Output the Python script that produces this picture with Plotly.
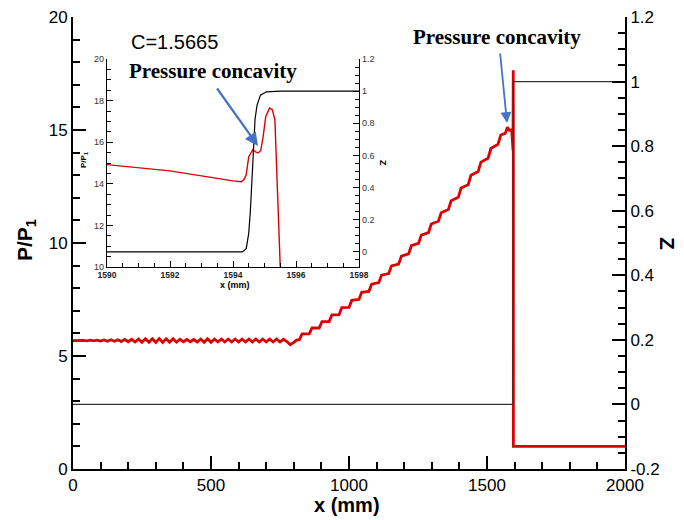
import plotly.graph_objects as go

# ---------------- data ----------------
# pressure ratio P/P1 along x (mm)
x_p = [0, 12.5, 25, 37.5, 50, 62.5, 75, 87.5, 100, 112.5, 125, 137.5, 150, 162.5, 175, 187.5,
       200, 212.5, 225, 237.5, 250, 262.5, 275, 287.5, 300, 312.5, 325, 337.5, 350, 362.5, 375, 387.5,
       400, 412.5, 425, 437.5, 450, 462.5, 475, 487.5, 500, 512.5, 525, 537.5, 550, 562.5, 575, 587.5,
       600, 612.5, 625, 637.5, 650, 662.5, 675, 687.5, 700, 712.5, 725, 737.5, 750, 762.5, 775,
       787, 800, 810,
       820, 830, 856, 866, 892, 902, 928, 938, 964, 974, 1000, 1010, 1036, 1046, 1072, 1082,
       1108, 1118, 1144, 1154, 1180, 1190, 1216, 1226, 1252, 1262, 1288, 1298, 1324, 1334,
       1360, 1370, 1396, 1406, 1432, 1442, 1468, 1478, 1504, 1514, 1540, 1550, 1566, 1574,
       1582, 1586,
       1590, 1591, 1592, 1593, 1593.5, 1594.0, 1594.26, 1594.35, 1594.42, 1594.5, 1594.63,
       1594.7, 1594.8, 1594.88, 1594.95, 1595.04, 1595.16, 1595.25, 1595.33, 1595.37,
       1595.44, 1595.5, 1595.6, 2000]
p_ratio = [5.68, 5.69, 5.67, 5.69, 5.67, 5.70, 5.67, 5.70, 5.66, 5.71, 5.65, 5.72, 5.65, 5.72, 5.64, 5.73,
           5.63, 5.74, 5.62, 5.75, 5.61, 5.76, 5.61, 5.76, 5.60, 5.77, 5.60, 5.76, 5.61, 5.76, 5.61, 5.74,
           5.63, 5.73, 5.63, 5.73, 5.62, 5.75, 5.61, 5.76, 5.61, 5.75, 5.62, 5.75, 5.62, 5.75, 5.62, 5.75,
           5.62, 5.75, 5.62, 5.75, 5.62, 5.75, 5.62, 5.75, 5.62, 5.75, 5.62, 5.75, 5.62, 5.74, 5.64,
           5.50, 5.60, 5.70,
           5.72, 5.98, 5.98, 6.24, 6.24, 6.52, 6.52, 6.82, 6.83, 7.14, 7.15, 7.46, 7.50, 7.82, 7.86, 8.18,
           8.25, 8.58, 8.65, 8.99, 9.07, 9.42, 9.52, 9.88, 9.98, 10.35, 10.46, 10.84, 10.96, 11.34,
           11.48, 11.87, 12.02, 12.43, 12.58, 13.00, 13.16, 13.58, 13.75, 14.18, 14.37, 14.78, 14.85, 15.12,
           14.95, 15.05,
           14.92, 14.78, 14.62, 14.38, 14.25, 14.14, 14.10, 14.20, 14.44, 15.30, 15.64,
           15.55, 15.48, 15.60, 16.20, 17.24, 17.64, 17.56, 17.08, 15.50,
           12.30, 10.00, 1.00, 1.00]

# reaction progress Z along x (mm)
x_z = [0, 1594.3, 1594.42, 1594.5, 1594.55, 1594.61, 1594.7, 1594.76, 1594.87, 1595.06, 1595.5, 2000]
z_vals = [0, 0, 0.02, 0.117, 0.25, 0.45, 0.825, 0.91, 0.975, 0.996, 1.0, 1.0]

main_x_ticks = [0, 500, 1000, 1500, 2000]
main_p_ticks = [0, 5, 10, 15, 20]
main_z_ticks = [-0.2, 0, 0.2, 0.4, 0.6, 0.8, 1.0, 1.2]
main_z_text = ["-0.2", "0", "0.2", "0.4", "0.6", "0.8", "1", "1.2"]
inset_x_ticks = [1590, 1592, 1594, 1596, 1598]
inset_p_ticks = [10, 12, 14, 16, 18, 20]
inset_z_ticks = [0, 0.2, 0.4, 0.6, 0.8, 1.0, 1.2]
inset_z_text = ["0", "0.2", "0.4", "0.6", "0.8", "1", "1.2"]

# ---------------- layout helpers ----------------
W, H = 684, 520
OFF = 8                         # page body margin offset of the figure
L, R, T, B = 73, 625, 17, 469   # plot area in screen pixels
def xp(px):
    return (px - L) / (R - L)
def yp(py):
    return (B - py) / (B - T)

FONT = "Arial, Liberation Sans, sans-serif"
SERIF = "Times New Roman, Liberation Serif, serif"
RED = "#DD0000"
BLUE = "#4472C4"

fig = go.Figure()
# main plot
fig.add_trace(go.Scatter(x=x_p, y=p_ratio, mode="lines", line=dict(color=RED, width=2.8),
                         xaxis="x", yaxis="y", showlegend=False))
fig.add_trace(go.Scatter(x=x_z, y=z_vals, mode="lines", line=dict(color="#333333", width=1.2),
                         xaxis="x", yaxis="y2", showlegend=False))
# inset
fig.add_trace(go.Scatter(x=x_z, y=z_vals, mode="lines", line=dict(color="black", width=1.2),
                         xaxis="x2", yaxis="y4", showlegend=False))
fig.add_trace(go.Scatter(x=x_p, y=p_ratio, mode="lines", line=dict(color=RED, width=1.4),
                         xaxis="x2", yaxis="y3", showlegend=False))

main_tick = dict(ticks="inside", ticklen=13, tickwidth=2, tickcolor="black",
                 showline=True, linecolor="black", linewidth=2, showgrid=False, zeroline=False,
                 automargin=False, ticklabeloverflow="allow",
                 tickfont=dict(family=FONT, size=17, color="black"))
inset_tick = dict(ticks="inside", ticklen=6, tickwidth=1.2, tickcolor="black",
                  showline=True, linecolor="black", linewidth=1.2, showgrid=False, zeroline=False,
                  automargin=False, ticklabeloverflow="allow",
                  tickfont=dict(family=FONT, size=9, color="#333333"))

ix0, ix1 = xp(107), xp(359)
iy0, iy1 = yp(267), yp(59)

fig.update_layout(
    width=W, height=H,
    margin=dict(l=L - OFF, r=W - (R - OFF), t=T - OFF, b=H - (B - OFF), pad=0, autoexpand=False),
    paper_bgcolor="white", plot_bgcolor="white",
    xaxis=dict(domain=[0, 1], range=[0, 2000], tickvals=main_x_ticks, anchor="y",
               minor=dict(dtick=100, tick0=0, ticks="inside", ticklen=7, tickwidth=1.5, tickcolor="black"),
               **main_tick),
    yaxis=dict(domain=[0, 1], range=[0, 20], tickvals=main_p_ticks, anchor="x",
               minor=dict(dtick=1, tick0=0, ticks="inside", ticklen=7, tickwidth=1.5, tickcolor="black"),
               **main_tick),
    yaxis2=dict(overlaying="y", side="right", anchor="x", range=[-0.2, 1.2],
                tickvals=main_z_ticks, ticktext=main_z_text,
                minor=dict(dtick=0.05, tick0=0, ticks="inside", ticklen=7, tickwidth=1.5, tickcolor="black"),
                **main_tick),
    xaxis2=dict(domain=[ix0, ix1], range=[1590, 1598], anchor="y3",
                tickvals=inset_x_ticks, ticktext=["<b>%d</b>" % v for v in inset_x_ticks],
                minor=dict(dtick=0.5, tick0=1590, ticks="inside", ticklen=3.5, tickwidth=1, tickcolor="black"),
                **{**inset_tick, "tickfont": dict(family=FONT, size=8.5, color="#222222")}),
    yaxis3=dict(domain=[iy0, iy1], range=[10, 20], anchor="x2", side="left",
                tickvals=inset_p_ticks,
                minor=dict(dtick=0.5, tick0=10, ticks="inside", ticklen=3.5, tickwidth=1, tickcolor="black"),
                **inset_tick),
    yaxis4=dict(overlaying="y3", side="right", anchor="x2", range=[-0.094, 1.2],
                tickvals=inset_z_ticks, ticktext=inset_z_text,
                minor=dict(dtick=0.05, tick0=0, ticks="inside", ticklen=3.5, tickwidth=1, tickcolor="black"),
                **inset_tick),
)

def label(text, sx, sy, size, family=FONT, angle=0):
    return dict(text=text, x=xp(sx), y=yp(sy), xref="paper", yref="paper",
                xanchor="center", yanchor="middle", showarrow=False, textangle=angle,
                font=dict(family=family, size=size, color="black"))

ann = [
    # main axis titles
    label("<b>P/P<sub>1</sub></b>", 26, 240, 21, angle=-90),
    label("<b>x (mm)</b>", 347, 505, 20),
    label("<b>Z</b>", 668, 243, 21, angle=90),
    # inset axis titles
    label("<b>P/P<sub>1</sub></b>", 84, 160, 8, angle=-90),
    label("<b>x (mm)</b>", 235, 285, 9),
    label("<b>Z</b>", 383, 163, 9, angle=90),
    # texts
    label("C=1.5665", 174, 42, 20),
    label("<b>Pressure concavity</b>", 213, 71, 21, family=SERIF),
    label("<b>Pressure concavity</b>", 497, 37, 21, family=SERIF),
]
# arrows
ann.append(dict(text="", x=xp(258), y=yp(146), xref="paper", yref="paper", showarrow=True,
                ax=216 - 258, ay=87 - 146, arrowhead=2, arrowsize=1.2, arrowwidth=2.2,
                arrowcolor=BLUE, standoff=0))
ann.append(dict(text="", x=xp(507), y=yp(123), xref="paper", yref="paper", showarrow=True,
                ax=500 - 507, ay=52 - 123, arrowhead=2, arrowsize=1.2, arrowwidth=1.8,
                arrowcolor=BLUE, standoff=0))
fig.update_layout(annotations=ann)

fig.write_html("out.html")
